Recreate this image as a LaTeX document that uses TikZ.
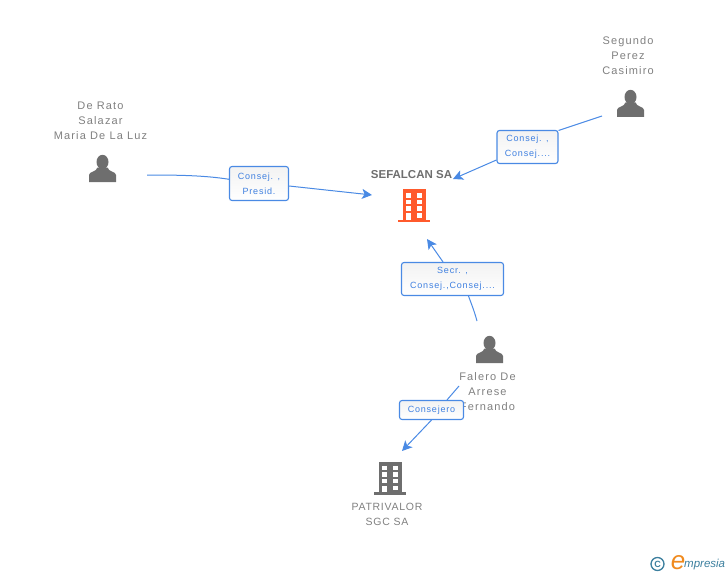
\documentclass[tikz,border=0pt]{standalone}
\usepackage{fontspec}
\setmainfont{Liberation Sans}
\newfontfamily\namefont[LetterSpace=7]{Liberation Sans}
\newfontfamily\personfont[LetterSpace=10.5]{Liberation Sans}
\newfontfamily\rolefont[LetterSpace=9]{Liberation Sans}
\usetikzlibrary{arrows.meta}

\definecolor{gristext}{HTML}{808080}
\definecolor{griicon}{HTML}{6E6E6E}
\definecolor{bluelink}{HTML}{4A8AE4}
\definecolor{bluetext}{HTML}{3F80E0}
\definecolor{orangebld}{HTML}{FF5A2C}
\definecolor{logoteal}{HTML}{3C7F9E}
\definecolor{logoorange}{HTML}{F08A1E}

\tikzstyle{nametag} = [inner sep=0pt, text=gristext, align=center, font=\personfont\fontsize{11}{15}\selectfont]
\tikzstyle{role} = [rectangle, rounded corners=2.5pt, draw=bluelink, line width=1.1pt, top color=black!5, bottom color=white, inner sep=0pt, text=bluetext, align=center, font=\rolefont\fontsize{9}{15}\selectfont]
\tikzstyle{rolebig} = [role, execute at begin node=\rule{0pt}{13.5pt}]
\tikzstyle{link} = [draw=bluelink, line width=1pt]
\tikzstyle{arrow} = [link, -{Stealth[length=10pt,width=10pt,inset=2.5pt]}]

\tikzset{
  pics/personicon/.style={code={
    \fill[griicon] (0,-6.5) ellipse (6pt and 7.2pt);
    \fill[griicon] (-13.5,13.5) -- (-13.5,6.5) .. controls (-13.5,3) and (-6,3.5) .. (-5,-1) -- (5,-1) .. controls (6,3.5) and (13.5,3) .. (13.5,6.5) -- (13.5,13.5) -- cycle;
  }},
  pics/buildicon/.style={code={
    \fill[#1] (-11.5,-16.5) rectangle (11.5,14);
    \fill[#1] (-16,14) rectangle (16,16.5);
    \foreach \y in {-12.5,-5.8,0.8}{
      \fill[white] (-8,\y) rectangle (-2.7,\y+4.5);
      \fill[white] (2.7,\y) rectangle (8,\y+4.5);
    }
    \fill[white] (-8,7.5) rectangle (-2.7,14);
    \fill[white] (2.7,7.5) rectangle (8,12);
  }}
}

\begin{document}
\begin{tikzpicture}[x=1pt, y=-1pt]
\useasboundingbox (0,0) rectangle (728,575);

% people
\pic at (102.5,168.5) {personicon};
\pic at (630.5,103.5) {personicon};
\pic at (489.5,349.5) {personicon};
\node (derato) [nametag] at (100.5,120.5) {De Rato\\Salazar\\Maria De La Luz};
\node (segundo) [nametag] at (628,55.5) {Segundo\\Perez\\Casimiro};
\node (falero) [nametag] at (487.5,391.5) {Falero De\\Arrese\\Fernando};

% companies
\pic at (414,205.5) {buildicon=orangebld};
\pic at (390,478) {buildicon=griicon};
\node (sefalcan) [nametag, text=griicon, font=\fontsize{11.5}{15}\bfseries\selectfont] at (411.5,174.5) {SEFALCAN SA};
\node (patrivalor) [nametag, font=\namefont\fontsize{10.5}{15}\selectfont] at (387,514) {PATRIVALOR\\SGC SA};

% role boxes
\node (presid) [rolebig, minimum width=59pt, minimum height=34pt] at (259,183.5) {Consej. ,\\Presid.};
\node (consej) [rolebig, minimum width=61pt, minimum height=33pt] at (527.5,147) {Consej. ,\\Consej....};
\node (secr) [rolebig, minimum width=102pt, minimum height=33pt] at (452.5,279) {Secr. ,\\Consej.,Consej....};
\node (consejero) [role, minimum width=64pt, minimum height=19pt] at (431.5,410) {Consejero};

% free ends
\coordinate (deratoend) at (147,175);
\coordinate (segundoend) at (602,116);
\coordinate (faleroend) at (477,321);
\coordinate (falerotop) at (459,386);
\coordinate (sefalcanw) at (372,195);
\coordinate (sefalcane) at (453,179);
\coordinate (sefalcans) at (427,239);
\coordinate (patrivalorn) at (402,451);

\draw [link] (deratoend) .. controls (180,175) and (205,175.5) .. (presid.172);
\draw [arrow] (presid.east |- 0,186) -- (sefalcanw);
\draw [link] (segundoend) -- (consej.28);
\draw [arrow] (consej.west |- 0,160) -- (sefalcane);
\draw [link] (faleroend) .. controls (474,310) and (471,303) .. (secr.south -| 468.5,0);
\draw [arrow] (secr.north -| 443,0) -- (sefalcans);
\draw [link] (falerotop) -- (consejero.north -| 447,0);
\draw [arrow] (consejero.south) -- (patrivalorn);

% logo
\node (copy) [circle, draw=logoteal, line width=1.3pt, minimum size=13pt, inner sep=0pt, text=logoteal, font=\fontsize{9}{9}\bfseries\selectfont] at (657.5,564) {C};
\node (logoe) [inner sep=0pt, text=logoorange, font=\fontsize{26}{26}\itshape\selectfont] at (678,562.5) {e};
\node (logotext) [inner sep=0pt, anchor=west, text=logoteal, font=\fontsize{11.5}{11.5}\itshape\selectfont] at (684,565) {mpresia};
\end{tikzpicture}
\end{document}
